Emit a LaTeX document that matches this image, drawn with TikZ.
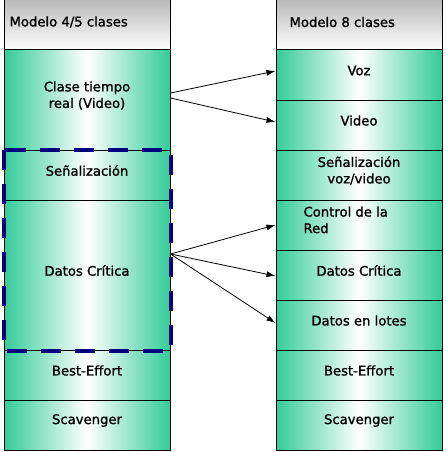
\documentclass[tikz,border=0pt]{standalone}
\usepackage{fontspec}
\setmainfont[FakeBold=1.2,AutoFakeBold=1.2]{DejaVu Sans}
\usetikzlibrary{arrows.meta}
\definecolor{qgreen}{RGB}{51,204,153}
\definecolor{qnavy}{RGB}{0,0,128}
\begin{document}
\begin{tikzpicture}[x=1pt,y=-1pt,
  txt/.style={font=\fontsize{13.2}{16.5}\selectfont\bfseries,text=black},
  row/.style={draw=black,line width=1pt,minimum width=166pt,minimum height=50pt,inner sep=0pt,
    left color=qgreen,right color=qgreen,middle color=white},
  lab/.style={txt,align=center,yshift=4.5pt},
  head/.style={draw=black,line width=1pt,minimum width=166pt,minimum height=50pt,inner sep=0pt,
    top color=black!27,bottom color=white},
  arr/.style={-{Latex[length=9pt,width=6pt]},line width=0.8pt},
  dashbox/.style={draw=qnavy,line width=4pt,dash pattern=on 20pt off 14pt}]
\useasboundingbox (0,0) rectangle (445,452);
% left column
\node[head] (lh) at (87,25) {};
\node[txt,anchor=west] (lht) at (6,22) {Modelo 4/5 clases};
\node[row,minimum height=100pt] (lrt) at (87,100) {};
\node[lab] (lrtt) at (lrt.center) {Clase tiempo\\real (Video)};
\node[row] (lsen) at (87,175) {};
\node[lab] (lsent) at (lsen.center) {Señalización};
\node[row,minimum height=150pt] (ldc) at (87,275) {};
\node[lab] (ldct) at (ldc.center) {Datos Crítica};
\node[row] (lbe) at (87,375) {};
\node[lab] (lbet) at (lbe.center) {Best-Effort};
\node[row] (lsc) at (87,425) {};
\node[lab] (lsct) at (lsc.center) {Scavenger};
% right column
\node[head] (rh) at (359,25) {};
\node[txt,anchor=west] (rht) at (286,22) {Modelo 8 clases};
\node[row] (rvoz) at (359,75) {};
\node[lab] (rvozt) at (rvoz.center) {Voz};
\node[row] (rvid) at (359,125) {};
\node[lab] (rvidt) at (rvid.center) {Video};
\node[row] (rsen) at (359,175) {};
\node[lab] (rsent) at (rsen.center) {Señalización\\voz/video};
\node[row] (rcr) at (359,225) {};
\node[txt,anchor=north west,align=left] (rcrt) at (300,203) {Control de la\\Red};
\node[row] (rdc) at (359,275) {};
\node[lab] (rdct) at (rdc.center) {Datos Crítica};
\node[row] (rdl) at (359,325) {};
\node[lab] (rdlt) at (rdl.center) {Datos en lotes};
\node[row] (rbe) at (359,375) {};
\node[lab] (rbet) at (rbe.center) {Best-Effort};
\node[row] (rsc) at (359,425) {};
\node[lab] (rsct) at (rsc.center) {Scavenger};
% dashed box
\draw[dashbox] (lsen.north west) rectangle (ldc.south east);
% arrows
\draw[arr] ([yshift=7pt]lrt.east) -- ([yshift=4pt]rvoz.west);
\draw[arr] ([yshift=2pt]lrt.east) -- ([yshift=3pt]rvid.west);
\draw[arr] ([yshift=21pt]ldc.east) -- ([yshift=0pt]rcr.west);
\draw[arr] ([yshift=21pt]ldc.east) -- ([yshift=-1pt]rdc.west);
\draw[arr] ([yshift=21pt]ldc.east) -- ([yshift=2pt]rdl.west);
\end{tikzpicture}
\end{document}
